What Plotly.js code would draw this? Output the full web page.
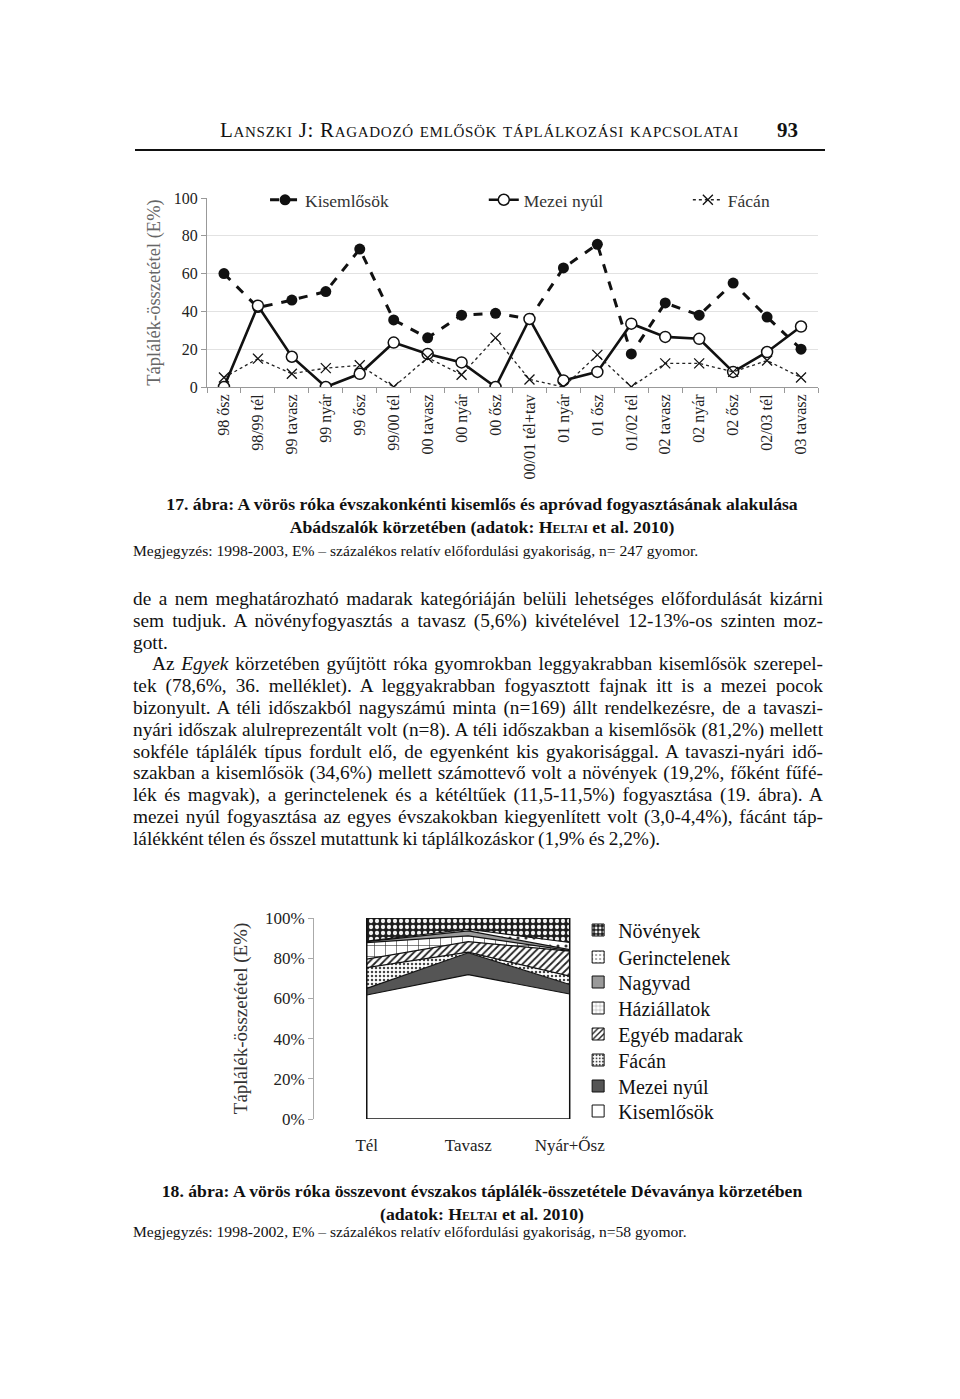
<!DOCTYPE html>
<html>
<head>
<meta charset="utf-8">
<script src="https://cdn.plot.ly/plotly-3.0.1.min.js"></script>
<style>
  html, body { margin:0; padding:0; background:#fff; }
  body { width:960px; height:1399px; position:relative; overflow:hidden; font-family:"Liberation Serif", "Times New Roman", serif; color:#111; }
  .abs { position:absolute; }
  .hdr { left:0; width:960px; top:118px; font-size:21px; }
  .hdr .t { position:absolute; left:220px; font-variant:small-caps; letter-spacing:0.7px; }
  .hdr .n { position:absolute; left:777px; font-weight:bold; }
  .rule { left:135px; top:149px; width:690px; height:2px; background:#111; }
  .cap { left:0; width:964px; text-align:center; font-weight:bold; font-size:17.7px; line-height:22.5px; }
  .sc { font-variant:small-caps; }
  .note { left:133px; font-size:15.6px; }
  .para { left:133px; top:588px; width:690px; font-size:19.3px; line-height:21.8px; word-spacing:-0.8px; }
  .para div { text-align:justify; text-align-last:justify; white-space:nowrap; }
  .para div.l { text-align:left; text-align-last:left; }
  .para div.ind { padding-left:19px; }
</style>
</head>
<body>
<div class="abs hdr"><span class="t">Lanszki J: Ragadozó emlősök táplálkozási kapcsolatai</span><span class="n">93</span></div>
<div class="abs rule"></div>

<div id="chart1" class="abs" style="left:120px; top:170px; width:720px; height:320px;"></div>

<div class="abs cap" style="top:493px;">17. ábra: A vörös róka évszakonkénti kisemlős és apróvad fogyasztásának alakulása<br>Abádszalók körzetében (adatok: <span class="sc">Heltai</span> et al. 2010)</div>
<div class="abs note" style="top:542px;">Megjegyzés: 1998-2003, E% – százalékos relatív előfordulási gyakoriság, n= 247 gyomor.</div>

<div class="abs para">
<div>de a nem meghatározható madarak kategóriáján belüli lehetséges előfordulását kizárni</div>
<div>sem tudjuk. A növényfogyasztás a tavasz (5,6%) kivételével 12-13%-os szinten moz-</div>
<div class="l">gott.</div>
<div class="ind">Az <i>Egyek</i> körzetében gyűjtött róka gyomrokban leggyakrabban kisemlősök szerepel-</div>
<div>tek (78,6%, 36. melléklet). A leggyakrabban fogyasztott fajnak itt is a mezei pocok</div>
<div>bizonyult. A téli időszakból nagyszámú minta (n=169) állt rendelkezésre, de a tavaszi-</div>
<div>nyári időszak alulreprezentált volt (n=8). A téli időszakban a kisemlősök (81,2%) mellett</div>
<div>sokféle táplálék típus fordult elő, de egyenként kis gyakorisággal. A tavaszi-nyári idő-</div>
<div>szakban a kisemlősök (34,6%) mellett számottevő volt a növények (19,2%, főként fűfé-</div>
<div>lék és magvak), a gerinctelenek és a kétéltűek (11,5-11,5%) fogyasztása (19. ábra). A</div>
<div>mezei nyúl fogyasztása az egyes évszakokban kiegyenlített volt (3,0-4,4%), fácánt táp-</div>
<div class="l">lálékként télen és ősszel mutattunk ki táplálkozáskor (1,9% és 2,2%).</div>
</div>

<div id="chart2" class="abs" style="left:200px; top:890px; width:580px; height:270px;"></div>

<div class="abs cap" style="top:1180px;">18. ábra: A vörös róka összevont évszakos táplálék-összetétele Dévaványa körzetében<br>(adatok: <span class="sc">Heltai</span> et al. 2010)</div>
<div class="abs note" style="top:1223px;">Megjegyzés: 1998-2002, E% – százalékos relatív előfordulási gyakoriság, n=58 gyomor.</div>

<script>
// ---- Chart 1 data (17. ábra) ----
const categories = ["98 ősz","98/99 tél","99 tavasz","99 nyár","99 ősz","99/00 tél","00 tavasz","00 nyár","00 ősz","00/01 tél+tav","01 nyár","01 ősz","01/02 tél","02 tavasz","02 nyár","02 ősz","02/03 tél","03 tavasz"];
const kisemlosok = [60, 42, 46, 50.5, 73, 35.5, 26, 38, 39, 36, 63, 75.5, 17.5, 44.5, 38, 55, 37, 20];
const mezeiNyul  = [0, 43, 16, 0, 7, 23.5, 17.5, 13, 0, 36, 3.5, 8, 33.5, 26.5, 25.5, 8, 18.5, 32];
const facan      = [5, 15, 7, 10, 11.5, 0, 15.5, 6.5, 26, 4, 0, 17, 0, 12.5, 12.5, 8, 14, 5];
const series1Names = ["Kisemlősök", "Mezei nyúl", "Fácán"];

// ---- Chart 2 data (18. ábra) ----
const seasons = ["Tél", "Tavasz", "Nyár+Ősz"];
const s2Kisemlosok   = [61.7, 71.8, 62.2];
const s2MezeiNyul    = [3.3, 10.9, 4.7];
const s2Facan        = [10.3, 0.3, 4.2];
const s2EgyebMadarak = [4.2, 5.2, 12.4];
const s2Haziallatok  = [8.2, 2.9, 0.3];
const s2Nagyvad      = [0.5, 2.5, 0.5];
const s2Gerinctelen  = [0.3, 0.8, 3.5];
const s2Novenyek     = [11.5, 5.6, 12.2];
const series2Names = ["Kisemlősök","Mezei nyúl","Fácán","Egyéb madarak","Háziállatok","Nagyvad","Gerinctelenek","Növények"];

const FONT = "Liberation Serif, Times New Roman, serif";

// ---------- Chart 1 ----------
const t1 = [
  { x: categories, y: kisemlosok, name: series1Names[0], type: "scatter", mode: "lines+markers", legend: "legend",
    line: { color: "#111", width: 3, dash: "dash" },
    marker: { symbol: "circle", size: 11, color: "#111" } },
  { x: categories, y: mezeiNyul, name: series1Names[1], type: "scatter", mode: "lines+markers", legend: "legend2",
    line: { color: "#111", width: 2.6 },
    marker: { symbol: "circle", size: 11, color: "#fff", line: { color: "#111", width: 1.5 } } },
  { x: categories, y: facan, name: series1Names[2], type: "scatter", mode: "lines+markers", legend: "legend3",
    line: { color: "#222", width: 1.3, dash: "dot" },
    marker: { symbol: "x-thin-open", size: 10, color: "#111", line: { color: "#111", width: 1.3 } } }
];
const leg1 = (x) => ({ x: x, xanchor: "left", y: 0.99, yanchor: "middle", orientation: "h",
  font: { family: FONT, size: 17.5, color: "#333" }, bgcolor: "rgba(0,0,0,0)" });
const l1 = {
  width: 720, height: 320,
  margin: { l: 87, r: 22, t: 23, b: 103 },
  paper_bgcolor: "#fff", plot_bgcolor: "#fff",
  font: { family: FONT, size: 16, color: "#222" },
  showlegend: true,
  legend: leg1(0.095), legend2: leg1(0.453), legend3: leg1(0.787),
  xaxis: { type: "category", range: [-0.5, 17.5], tickangle: -90,
           tickfont: { family: FONT, size: 16, color: "#222" },
           ticks: "outside", tickson: "boundaries", ticklen: 5, tickcolor: "#999",
           showline: true, linecolor: "#999", linewidth: 1, showgrid: false, fixedrange: true },
  yaxis: { range: [0, 100], dtick: 20, tickfont: { family: FONT, size: 16, color: "#222" },
           ticks: "outside", ticklen: 5, tickcolor: "#999",
           showline: true, linecolor: "#999", linewidth: 1,
           showgrid: true, gridcolor: "#e2e2e2", zeroline: false,
           title: { text: "Táplálék-összetétel (E%)", font: { family: FONT, size: 18.5, color: "#666" }, standoff: 8 } }
};
Plotly.newPlot("chart1", t1, l1, { staticPlot: true });

// ---------- Chart 2 ----------
const vals2 = [s2Kisemlosok, s2MezeiNyul, s2Facan, s2EgyebMadarak, s2Haziallatok, s2Nagyvad, s2Gerinctelen, s2Novenyek];
const fills = [
  { fillcolor: "#ffffff", pattern: null },
  { fillcolor: "#555555", pattern: null },
  { fillcolor: "#ffffff", pattern: { shape: ".", bgcolor: "#ffffff", fgcolor: "#444", size: 4, solidity: 0.3 } },
  { fillcolor: "#ffffff", pattern: { shape: "/", bgcolor: "#ffffff", fgcolor: "#222", size: 5, solidity: 0.35 } },
  { fillcolor: "#ffffff", pattern: { shape: "+", bgcolor: "#ffffff", fgcolor: "#222", size: 11, solidity: 0.1 } },
  { fillcolor: "#9a9a9a", pattern: null },
  { fillcolor: "#ffffff", pattern: { shape: ".", bgcolor: "#ffffff", fgcolor: "#333", size: 8, solidity: 0.12 } },
  { fillcolor: "#1e1e1e", pattern: { shape: ".", bgcolor: "#1e1e1e", fgcolor: "#f2f2f2", size: 6, solidity: 0.4 } }
];
const t2 = vals2.map((v, i) => {
  const tr = { x: seasons, y: v, name: series2Names[i], type: "scatter", mode: "lines", showlegend: false,
    stackgroup: "one", line: { color: "#111", width: 1.2 }, fillcolor: fills[i].fillcolor };
  if (fills[i].pattern) tr.fillpattern = Object.assign({ fillmode: "replace" }, fills[i].pattern);
  return tr;
});
const total2 = seasons.map((_, j) => vals2.reduce((a, v) => a + v[j], 0));
const last = seasons.length - 1;
t2.push({ x: [seasons[0], seasons[0], seasons[last], seasons[last]], y: [total2[0], 0, 0, total2[last]],
  type: "scatter", mode: "lines", line: { color: "#111", width: 1.5 }, showlegend: false, hoverinfo: "skip" });

// legend-only entries (square swatches), one legend per row, Növények on top
const legendRowsPx = [1111, 1086, 1060, 1034, 1008, 982, 957, 930]; // centre of each legend row (page px), same order as series2Names
const plotTopPx = 918, plotBottomPx = 1119;
const l2 = {
  width: 580, height: 270,
  margin: { l: 114, r: 190, t: 28, b: 41 },
  paper_bgcolor: "#fff", plot_bgcolor: "rgba(0,0,0,0)",
  font: { family: FONT, size: 17, color: "#222" },
  showlegend: true,
  xaxis: { type: "category", range: [-0.52, 2.2], showline: false, showgrid: false, zeroline: false,
           ticks: "", ticklabelstandoff: 14, tickfont: { family: FONT, size: 17, color: "#222" }, fixedrange: true },
  yaxis: { range: [0, 100], dtick: 20, ticksuffix: "%", showgrid: false, zeroline: false,
           showline: true, linecolor: "#aaa", linewidth: 1, ticks: "outside", ticklen: 5, tickcolor: "#aaa",
           tickfont: { family: FONT, size: 17, color: "#222" },
           title: { text: "Táplálék-összetétel (E%)", font: { family: FONT, size: 19, color: "#333" }, standoff: 12 } }
};
series2Names.forEach((nm, i) => {
  const key = i === 0 ? "legend" : "legend" + (i + 1);
  const m = { color: fills[i].fillcolor, line: { color: "#111", width: 1 } };
  if (fills[i].pattern) m.pattern = Object.assign({ fillmode: "replace" }, fills[i].pattern, { size: Math.min(fills[i].pattern.size, 5) });
  t2.push({ type: "bar", x: [null], y: [null], name: nm, legend: key, marker: m, showlegend: true, hoverinfo: "skip" });
  l2[key] = { x: 0.957, xanchor: "left", y: (plotBottomPx - legendRowsPx[i]) / (plotBottomPx - plotTopPx), yanchor: "middle",
              font: { family: FONT, size: 20, color: "#111" }, bgcolor: "rgba(0,0,0,0)" };
});
Plotly.newPlot("chart2", t2, l2, { staticPlot: true });
</script>
</body>
</html>
